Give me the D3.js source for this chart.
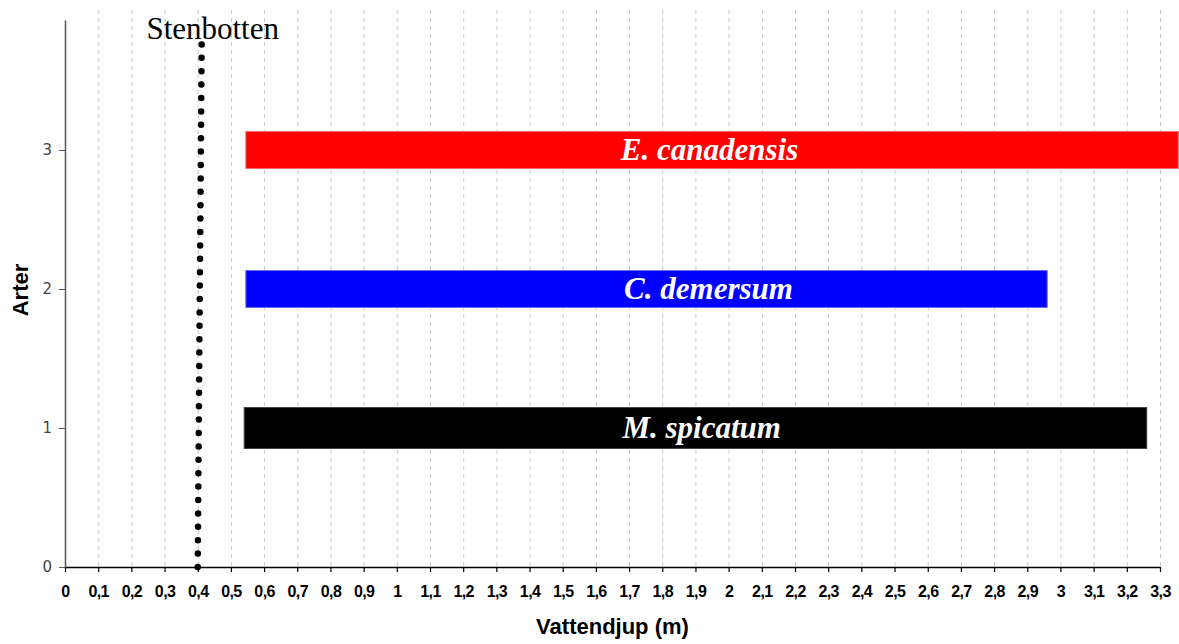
<!DOCTYPE html>
<html>
<head>
<meta charset="utf-8">
<script src="https://cdn.jsdelivr.net/npm/d3@7"></script>
<style>
  body { margin: 0; background: #fff; }
  svg { display: block; }
</style>
</head>
<body>
<svg id="chart" width="1179" height="644"></svg>
<script>
// species rows and depth ranges (m)
const species = ["M. spicatum", "C. demersum", "E. canadensis"];
const speciesRow = [1, 2, 3];
const depthStart = [0.54, 0.545, 0.545];
const depthEnd = [3.26, 2.96, 3.355];
const barColors = ["#000000", "#0000ff", "#ff0000"];
const borderColors = ["#444444", "#6a6aff", "#ff6a6a"];
const labelStart = [1.68, 1.685, 1.675];

// stenbotten marker
const stenbottenDepth = [0.4, 0.412];
const stenbottenLevel = [0, 3.79];

const xTicks = [0, 0.1, 0.2, 0.3, 0.4, 0.5, 0.6, 0.7, 0.8, 0.9, 1, 1.1, 1.2, 1.3, 1.4, 1.5, 1.6,
  1.7, 1.8, 1.9, 2, 2.1, 2.2, 2.3, 2.4, 2.5, 2.6, 2.7, 2.8, 2.9, 3, 3.1, 3.2, 3.3];
const yTicks = [0, 1, 2, 3];

function RangeChart(){
    var self = this;
    self.init();
};

RangeChart.prototype.init = function(){
    var self = this;
    self.margin = {top: 20, right: 19, bottom: 77, left: 65};
    self.svg = d3.select("#chart");
    self.width = 1179 - self.margin.left - self.margin.right;
    self.height = 644 - self.margin.top - self.margin.bottom;
    self.g = self.svg.append("g")
        .attr("transform", "translate(" + self.margin.left + "," + self.margin.top + ")");
};

RangeChart.prototype.update = function(){
    var self = this;
    var g = self.g;

    let xScale = d3.scaleLinear().domain([0, 3.3]).range([0, self.width]);
    let yScale = d3.scaleLinear().domain([0, 3.935]).range([self.height, 0]);

    //dashed vertical grid
    g.selectAll(".grid")
        .data(xTicks.slice(1))
        .enter()
        .append("line")
        .attr("class", "grid")
        .attr("x1", d => xScale(d) + 0.5)
        .attr("x2", d => xScale(d) + 0.5)
        .attr("y1", -10)
        .attr("y2", self.height)
        .attr("stroke", "#c8c8c8")
        .attr("stroke-dasharray", "4,4");

    //x axis
    let xAxis = g.append("g")
        .attr("transform", "translate(0," + self.height + ")")
        .call(d3.axisBottom(xScale).tickValues(xTicks).tickSize(5).tickSizeOuter(0)
            .tickFormat(d => String(d).replace(".", ",")));
    xAxis.select(".domain").attr("stroke", "#000").attr("stroke-width", 1.5);
    xAxis.selectAll(".tick line").attr("stroke", "#000").attr("stroke-width", 1.2);
    xAxis.selectAll("text")
        .attr("y", 19)
        .attr("font-family", "Liberation Sans, Arial, sans-serif")
        .attr("font-weight", "bold")
        .attr("font-size", 16)
        .attr("letter-spacing", -0.6)
        .attr("fill", "#000");

    //y axis
    let yAxis = g.append("g")
        .call(d3.axisLeft(yScale).tickValues(yTicks).tickSize(6).tickSizeOuter(0).tickFormat(d3.format("d")));
    yAxis.select(".domain").attr("stroke", "#555").attr("stroke-width", 1.5);
    yAxis.selectAll(".tick line").attr("stroke", "#555");
    yAxis.selectAll("text")
        .attr("x", -13)
        .attr("font-family", "DejaVu Sans, sans-serif")
        .attr("font-size", 15)
        .attr("fill", "#444");

    //bars
    let rows = species.map((s, i) => ({name: s, row: speciesRow[i], start: depthStart[i], end: depthEnd[i],
        color: barColors[i], border: borderColors[i], label: labelStart[i]}));
    // bottom bar is drawn a bit thicker in the original
    let barH = d => d.row === 1 ? 41 : 37;

    g.selectAll(".bars")
        .data(rows)
        .enter()
        .append("rect")
        .attr("class", "bars")
        .attr("x", d => xScale(d.start))
        .attr("y", d => yScale(d.row) - barH(d) / 2)
        .attr("width", d => xScale(d.end) - xScale(d.start))
        .attr("height", d => barH(d))
        .attr("fill", d => d.color)
        .attr("stroke", d => d.border)
        .attr("stroke-width", 1);

    g.selectAll(".names")
        .data(rows)
        .enter()
        .append("text")
        .attr("class", "names")
        .attr("x", d => xScale(d.label))
        .attr("y", d => yScale(d.row) + 10)
        .attr("font-family", "Liberation Serif, Times New Roman, serif")
        .attr("font-weight", "bold")
        .attr("font-style", "italic")
        .attr("font-size", 31)
        .attr("fill", "#fff")
        .text(d => d.name);

    //stenbotten dotted line
    let pts = stenbottenDepth.map((d, i) => [xScale(d), yScale(stenbottenLevel[i])]);
    g.append("path")
        .attr("d", d3.line()(pts))
        .attr("stroke", "#000")
        .attr("stroke-width", 6.5)
        .attr("stroke-linecap", "round")
        .attr("stroke-dasharray", "0,13.4")
        .attr("fill", "none");

    g.append("text")
        .attr("x", xScale(stenbottenDepth[1]) + 11)
        .attr("y", 19)
        .attr("text-anchor", "middle")
        .attr("font-family", "Liberation Serif, Times New Roman, serif")
        .attr("font-size", 31)
        .attr("fill", "#000")
        .text("Stenbotten");

    //axis titles
    self.svg.append("text")
        .attr("x", self.margin.left + self.width / 2)
        .attr("y", 634)
        .attr("text-anchor", "middle")
        .attr("font-family", "Liberation Sans, Arial, sans-serif")
        .attr("font-weight", "bold")
        .attr("font-size", 22)
        .text("Vattendjup (m)");

    self.svg.append("text")
        .attr("transform", "translate(28,290) rotate(-90)")
        .attr("text-anchor", "middle")
        .attr("font-family", "Liberation Sans, Arial, sans-serif")
        .attr("font-weight", "bold")
        .attr("font-size", 22)
        .text("Arter");
};

var chart = new RangeChart();
chart.update();
</script>
</body>
</html>
